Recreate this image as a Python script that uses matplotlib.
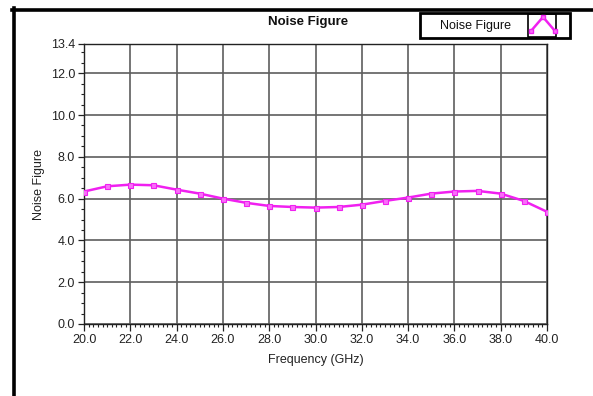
import matplotlib
matplotlib.use("Agg")
import matplotlib.pyplot as plt
from matplotlib.lines import Line2D
from matplotlib.patches import Rectangle
from matplotlib.ticker import MultipleLocator, FormatStrFormatter

# ---data---
freq_ghz = [20, 21, 22, 23, 24, 25, 26, 27, 28, 29, 30,
            31, 32, 33, 34, 35, 36, 37, 38, 39, 40]
noise_figure = [6.34, 6.59, 6.67, 6.64, 6.43, 6.24, 6.00, 5.80, 5.65, 5.60, 5.57,
                5.60, 5.71, 5.89, 6.05, 6.24, 6.34, 6.37, 6.24, 5.89, 5.37]
y_ticks = [0.0, 2.0, 4.0, 6.0, 8.0, 10.0, 12.0, 13.4]
x_ticks = [20, 22, 24, 26, 28, 30, 32, 34, 36, 38, 40]

MAGENTA = '#f020f0'
W, H = 593, 396

plt.rcParams['font.family'] = ['Liberation Sans', 'DejaVu Sans']

fig = plt.figure(figsize=(W / 100, H / 100), dpi=100)
ax = fig.add_axes([84 / W, 1 - 324 / H, (547 - 84) / W, (324 - 44) / H])

ax.plot(freq_ghz, noise_figure, color=MAGENTA, lw=1.8, marker='s', ms=3.6,
        mfc='#f870f8', mec=MAGENTA, mew=0.8, zorder=3)

ax.set_xlim(20, 40)
ax.set_ylim(0, 13.4)
ax.set_xticks(x_ticks)
ax.set_yticks(y_ticks)
ax.xaxis.set_major_formatter(FormatStrFormatter('%.1f'))
ax.yaxis.set_major_formatter(FormatStrFormatter('%.1f'))
ax.xaxis.set_minor_locator(MultipleLocator(0.2))
ax.yaxis.set_minor_locator(MultipleLocator(0.5))
ax.tick_params(which='major', direction='out', length=4.5, width=0.9, labelsize=9,
               colors='#222222', pad=2)
ax.tick_params(which='minor', direction='out', length=2.5, width=0.8, colors='#222222')
ax.tick_params(axis='x', which='major', length=5)

ax.grid(True, which='major', color='#5e5e5e', lw=1.2)
for s in ax.spines.values():
    s.set_color('#222222')
    s.set_linewidth(1.0)

ax.set_xlabel('Frequency (GHz)', fontsize=9, color='#222222', labelpad=6)
ax.set_ylabel('Noise Figure', fontsize=9, color='#222222', labelpad=4)
fig.text(308 / W, 1 - 22 / H, 'Noise Figure', ha='center', va='center',
         fontsize=9.5, fontweight='bold', color='#111111')

# ---legend box---
fig.add_artist(Rectangle((420 / W, 1 - 38 / H), 150 / W, 25 / H, transform=fig.transFigure,
                         fill=False, ec='black', lw=2))
fig.add_artist(Rectangle((528 / W, 1 - 37 / H), 28 / W, 23 / H, transform=fig.transFigure,
                         fill=False, ec='black', lw=1.2))
fig.text(476 / W, 1 - 26 / H, 'Noise Figure', ha='center', va='center', fontsize=9,
         color='#111111')
fig.add_artist(Line2D([531 / W, 543 / W, 555 / W], [1 - 31 / H, 1 - 17 / H, 1 - 31 / H],
                      transform=fig.transFigure, color=MAGENTA, lw=1.8, marker='s', ms=3,
                      mfc='#f870f8', mec=MAGENTA))

# ---outer frame---
fig.add_artist(Line2D([13.5 / W, 13.5 / W], [0, 1 - 8 / H], transform=fig.transFigure,
                      color='black', lw=2.6))
fig.add_artist(Line2D([12 / W, 1], [1 - 9.5 / H, 1 - 9.5 / H], transform=fig.transFigure,
                      color='black', lw=2.6))

fig.savefig('out.png', dpi=100)
